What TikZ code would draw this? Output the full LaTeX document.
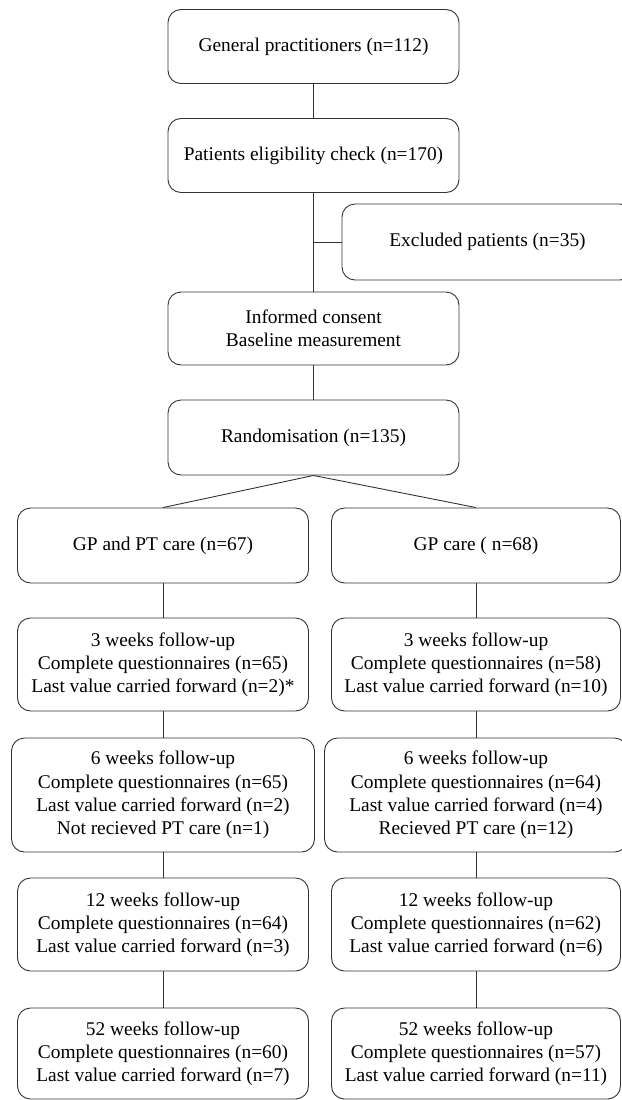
\documentclass[tikz,border=0pt]{standalone}
\usepackage{fontspec}
\setmainfont{Liberation Serif}
\usepackage{tikz}
\usetikzlibrary{positioning,calc}
\tikzset{
  flowbox/.style = {draw=black!80, line width=0.9pt, rounded corners=13pt, align=center,
    inner sep=2pt, font=\fontsize{19.4}{23.2}\selectfont},
  topbox/.style = {flowbox, minimum width=291pt, minimum height=74pt},
  armbox/.style = {flowbox, minimum width=291pt},
  flowline/.style = {draw=black!80, line width=0.9pt},
}

\begin{document}
\begin{tikzpicture}[x=1pt, y=-1pt]
\useasboundingbox (0,0) rectangle (621,1100);

% Recruitment
\node[topbox] (gps) at (313.5,46.5) {General practitioners (n=112)};
\node[topbox] (elig) at (313.5,155.5) {Patients eligibility check (n=170)};
\node[topbox, minimum height=76pt] (excl) at (487.5,242) {Excluded patients (n=35)};
\node[topbox, minimum height=73pt] (consent) at (313.5,328.5) {Informed consent\\Baseline measurement};
\node[topbox, minimum height=75pt] (rand) at (313.5,437.5) {Randomisation (n=135)};

\draw[flowline] (gps.south) -- (elig.north);
\draw[flowline] (elig.south) -- (consent.north);
\draw[flowline] (elig.south |- excl.west) -- (excl.west);
\draw[flowline] (consent.south) -- (rand.north);

% GP and PT care arm
\begin{scope}
  \node[armbox, minimum height=75pt] (armA) at (163,545.5) {GP and PT care (n=67)};
  \node[armbox, minimum height=93pt] (wkA3) at (163,664.5)
    {3 weeks follow-up\\Complete questionnaires (n=65)\\Last value carried forward (n=2)*};
  \node[armbox, minimum width=303pt, minimum height=114pt] (wkA6) at (163,795)
    {6 weeks follow-up\\Complete questionnaires (n=65)\\Last value carried forward (n=2)\\Not recieved PT care (n=1)};
  \node[armbox, minimum height=93pt] (wkA12) at (163,924.5)
    {12 weeks follow-up\\Complete questionnaires (n=64)\\Last value carried forward (n=3)};
  \node[armbox, minimum height=91pt] (wkA52) at (163,1053.5)
    {52 weeks follow-up\\Complete questionnaires (n=60)\\Last value carried forward (n=7)};
\end{scope}

% GP care arm
\begin{scope}
  \node[armbox, minimum width=289pt, minimum height=75pt] (armB) at (476,545.5) {GP care ( n=68)};
  \node[armbox, minimum width=289pt, minimum height=93pt] (wkB3) at (476,664.5)
    {3 weeks follow-up\\Complete questionnaires (n=58)\\Last value carried forward (n=10)};
  \node[armbox, minimum width=303pt, minimum height=114pt] (wkB6) at (476,795)
    {6 weeks follow-up\\Complete questionnaires (n=64)\\Last value carried forward (n=4)\\Recieved PT care (n=12)};
  \node[armbox, minimum width=289pt, minimum height=93pt] (wkB12) at (476,924.5)
    {12 weeks follow-up\\Complete questionnaires (n=62)\\Last value carried forward (n=6)};
  \node[armbox, minimum width=289pt, minimum height=91pt] (wkB52) at (476,1053.5)
    {52 weeks follow-up\\Complete questionnaires (n=57)\\Last value carried forward (n=11)};
\end{scope}

\draw[flowline] (rand.south) -- (armA.north);
\draw[flowline] (rand.south) -- (armB.north);

\draw[flowline] (armA.south) -- (wkA3.north);
\draw[flowline] (wkA3.south) -- (wkA6.north);
\draw[flowline] (wkA6.south) -- (wkA12.north);
\draw[flowline] (wkA12.south) -- (wkA52.north);

\draw[flowline] (armB.south) -- (wkB3.north);
\draw[flowline] (wkB3.south) -- (wkB6.north);
\draw[flowline] (wkB6.south) -- (wkB12.north);
\draw[flowline] (wkB12.south) -- (wkB52.north);

\end{tikzpicture}
\end{document}
